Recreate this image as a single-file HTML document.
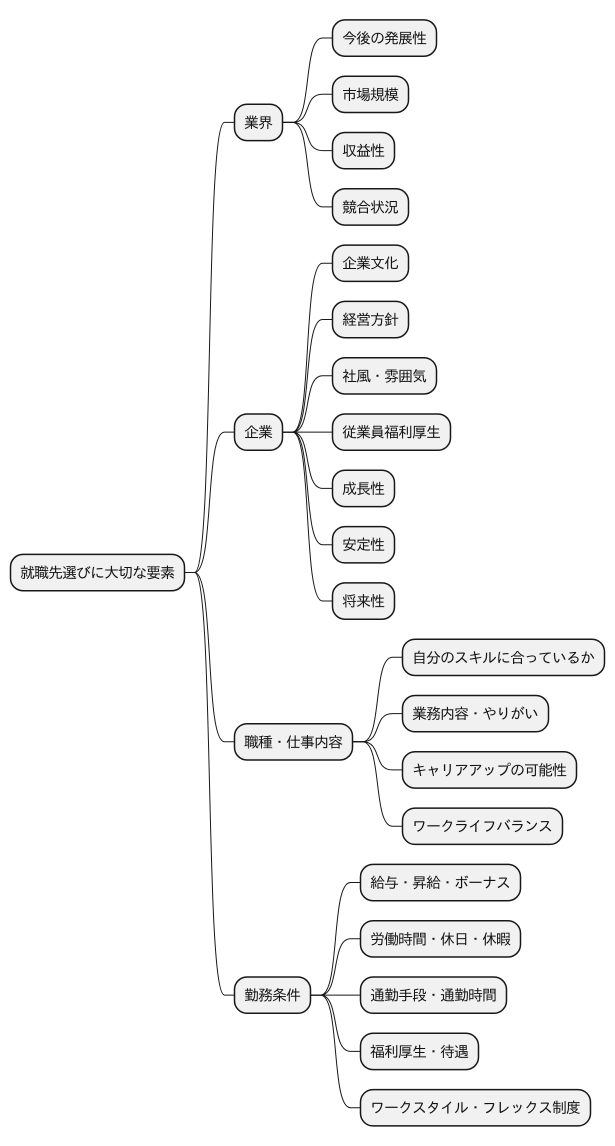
<!DOCTYPE html>
<html><head><meta charset="utf-8">
<style>
html,body{margin:0;padding:0;background:#fff;}
svg{display:block;}
rect{fill:#F1F1F1;stroke:#181818;stroke-width:1.5;}
path{fill:none;stroke:#181818;stroke-width:1;}
text{font-family:"IPAGothic",sans-serif;font-size:15px;letter-spacing:-1px;fill:#111;text-rendering:geometricPrecision;}
</style></head><body>
<svg width="615" height="1146" viewBox="0 0 615 1146" xmlns="http://www.w3.org/2000/svg">
<path d="M184.5,572.5 L194.5,572.5 C214.5,572.5 204.5,122.4 224.5,122.4 L234.5,122.4"/>
<path d="M184.5,572.5 L194.5,572.5 C214.5,572.5 204.5,432.1 224.5,432.1 L234.5,432.1"/>
<path d="M184.5,572.5 L194.5,572.5 C214.5,572.5 204.5,741.8 224.5,741.8 L234.5,741.8"/>
<path d="M184.5,572.5 L194.5,572.5 C214.5,572.5 204.5,995.1 224.5,995.1 L234.5,995.1"/>

<path d="M282.5,122.4 L292.5,122.4 C312.5,122.4 302.5,38 322.5,38 L332.5,38"/>
<path d="M282.5,122.4 L292.5,122.4 C312.5,122.4 302.5,94.3 322.5,94.3 L332.5,94.3"/>
<path d="M282.5,122.4 L292.5,122.4 C312.5,122.4 302.5,150.6 322.5,150.6 L332.5,150.6"/>
<path d="M282.5,122.4 L292.5,122.4 C312.5,122.4 302.5,206.9 322.5,206.9 L332.5,206.9"/>

<path d="M282.5,432.1 L292.5,432.1 C312.5,432.1 302.5,263.2 322.5,263.2 L332.5,263.2"/>
<path d="M282.5,432.1 L292.5,432.1 C312.5,432.1 302.5,319.5 322.5,319.5 L332.5,319.5"/>
<path d="M282.5,432.1 L292.5,432.1 C312.5,432.1 302.5,375.8 322.5,375.8 L332.5,375.8"/>
<path d="M282.5,432.1 L332.5,432.1"/>
<path d="M282.5,432.1 L292.5,432.1 C312.5,432.1 302.5,488.4 322.5,488.4 L332.5,488.4"/>
<path d="M282.5,432.1 L292.5,432.1 C312.5,432.1 302.5,544.7 322.5,544.7 L332.5,544.7"/>
<path d="M282.5,432.1 L292.5,432.1 C312.5,432.1 302.5,601 322.5,601 L332.5,601"/>

<path d="M352.5,741.8 L362.5,741.8 C382.5,741.8 372.5,657.3 392.5,657.3 L402.5,657.3"/>
<path d="M352.5,741.8 L362.5,741.8 C382.5,741.8 372.5,713.6 392.5,713.6 L402.5,713.6"/>
<path d="M352.5,741.8 L362.5,741.8 C382.5,741.8 372.5,769.9 392.5,769.9 L402.5,769.9"/>
<path d="M352.5,741.8 L362.5,741.8 C382.5,741.8 372.5,826.2 392.5,826.2 L402.5,826.2"/>

<path d="M310.5,995.1 L320.5,995.1 C340.5,995.1 330.5,882.5 350.5,882.5 L360.5,882.5"/>
<path d="M310.5,995.1 L320.5,995.1 C340.5,995.1 330.5,938.8 350.5,938.8 L360.5,938.8"/>
<path d="M310.5,995.1 L360.5,995.1"/>
<path d="M310.5,995.1 L320.5,995.1 C340.5,995.1 330.5,1051.4 350.5,1051.4 L360.5,1051.4"/>
<path d="M310.5,995.1 L320.5,995.1 C340.5,995.1 330.5,1107.7 350.5,1107.7 L360.5,1107.7"/>

<rect x="10.5" y="554.4" width="174" height="36.3" rx="12.5"/><text x="20" y="578">就職先選びに大切な要素</text>

<rect x="234.5" y="104.3" width="48" height="36.3" rx="12.5"/><text x="244" y="127.9">業界</text>
<rect x="234.5" y="414" width="48" height="36.3" rx="12.5"/><text x="244" y="437.6">企業</text>
<rect x="234.5" y="723.7" width="118" height="36.3" rx="12.5"/><text x="244" y="747.3">職種・仕事内容</text>
<rect x="234.5" y="977" width="76" height="36.3" rx="12.5"/><text x="244" y="1000.6">勤務条件</text>

<rect x="332.5" y="19.9" width="104" height="36.3" rx="12.5"/><text x="342" y="43.5">今後の発展性</text>
<rect x="332.5" y="76.2" width="76" height="36.3" rx="12.5"/><text x="342" y="99.8">市場規模</text>
<rect x="332.5" y="132.5" width="62" height="36.3" rx="12.5"/><text x="342" y="156.1">収益性</text>
<rect x="332.5" y="188.8" width="76" height="36.3" rx="12.5"/><text x="342" y="212.4">競合状況</text>

<rect x="332.5" y="245.1" width="76" height="36.3" rx="12.5"/><text x="342" y="268.7">企業文化</text>
<rect x="332.5" y="301.4" width="76" height="36.3" rx="12.5"/><text x="342" y="325">経営方針</text>
<rect x="332.5" y="357.7" width="104" height="36.3" rx="12.5"/><text x="342" y="381.3">社風・雰囲気</text>
<rect x="332.5" y="414" width="118" height="36.3" rx="12.5"/><text x="342" y="437.6">従業員福利厚生</text>
<rect x="332.5" y="470.3" width="62" height="36.3" rx="12.5"/><text x="342" y="493.9">成長性</text>
<rect x="332.5" y="526.6" width="62" height="36.3" rx="12.5"/><text x="342" y="550.2">安定性</text>
<rect x="332.5" y="582.9" width="62" height="36.3" rx="12.5"/><text x="342" y="606.5">将来性</text>

<rect x="402.5" y="639.2" width="202" height="36.3" rx="12.5"/><text x="412" y="662.8">自分のスキルに合っているか</text>
<rect x="402.5" y="695.5" width="146" height="36.3" rx="12.5"/><text x="412" y="719.1">業務内容・やりがい</text>
<rect x="402.5" y="751.8" width="174" height="36.3" rx="12.5"/><text x="412" y="775.4">キャリアアップの可能性</text>
<rect x="402.5" y="808.1" width="160" height="36.3" rx="12.5"/><text x="412" y="831.7">ワークライフバランス</text>

<rect x="360.5" y="864.4" width="160" height="36.3" rx="12.5"/><text x="370" y="888">給与・昇給・ボーナス</text>
<rect x="360.5" y="920.7" width="160" height="36.3" rx="12.5"/><text x="370" y="944.3">労働時間・休日・休暇</text>
<rect x="360.5" y="977" width="146" height="36.3" rx="12.5"/><text x="370" y="1000.6">通勤手段・通勤時間</text>
<rect x="360.5" y="1033.3" width="118" height="36.3" rx="12.5"/><text x="370" y="1056.9">福利厚生・待遇</text>
<rect x="360.5" y="1089.6" width="230" height="36.3" rx="12.5"/><text x="370" y="1113.2">ワークスタイル・フレックス制度</text>
</svg>
</body></html>
